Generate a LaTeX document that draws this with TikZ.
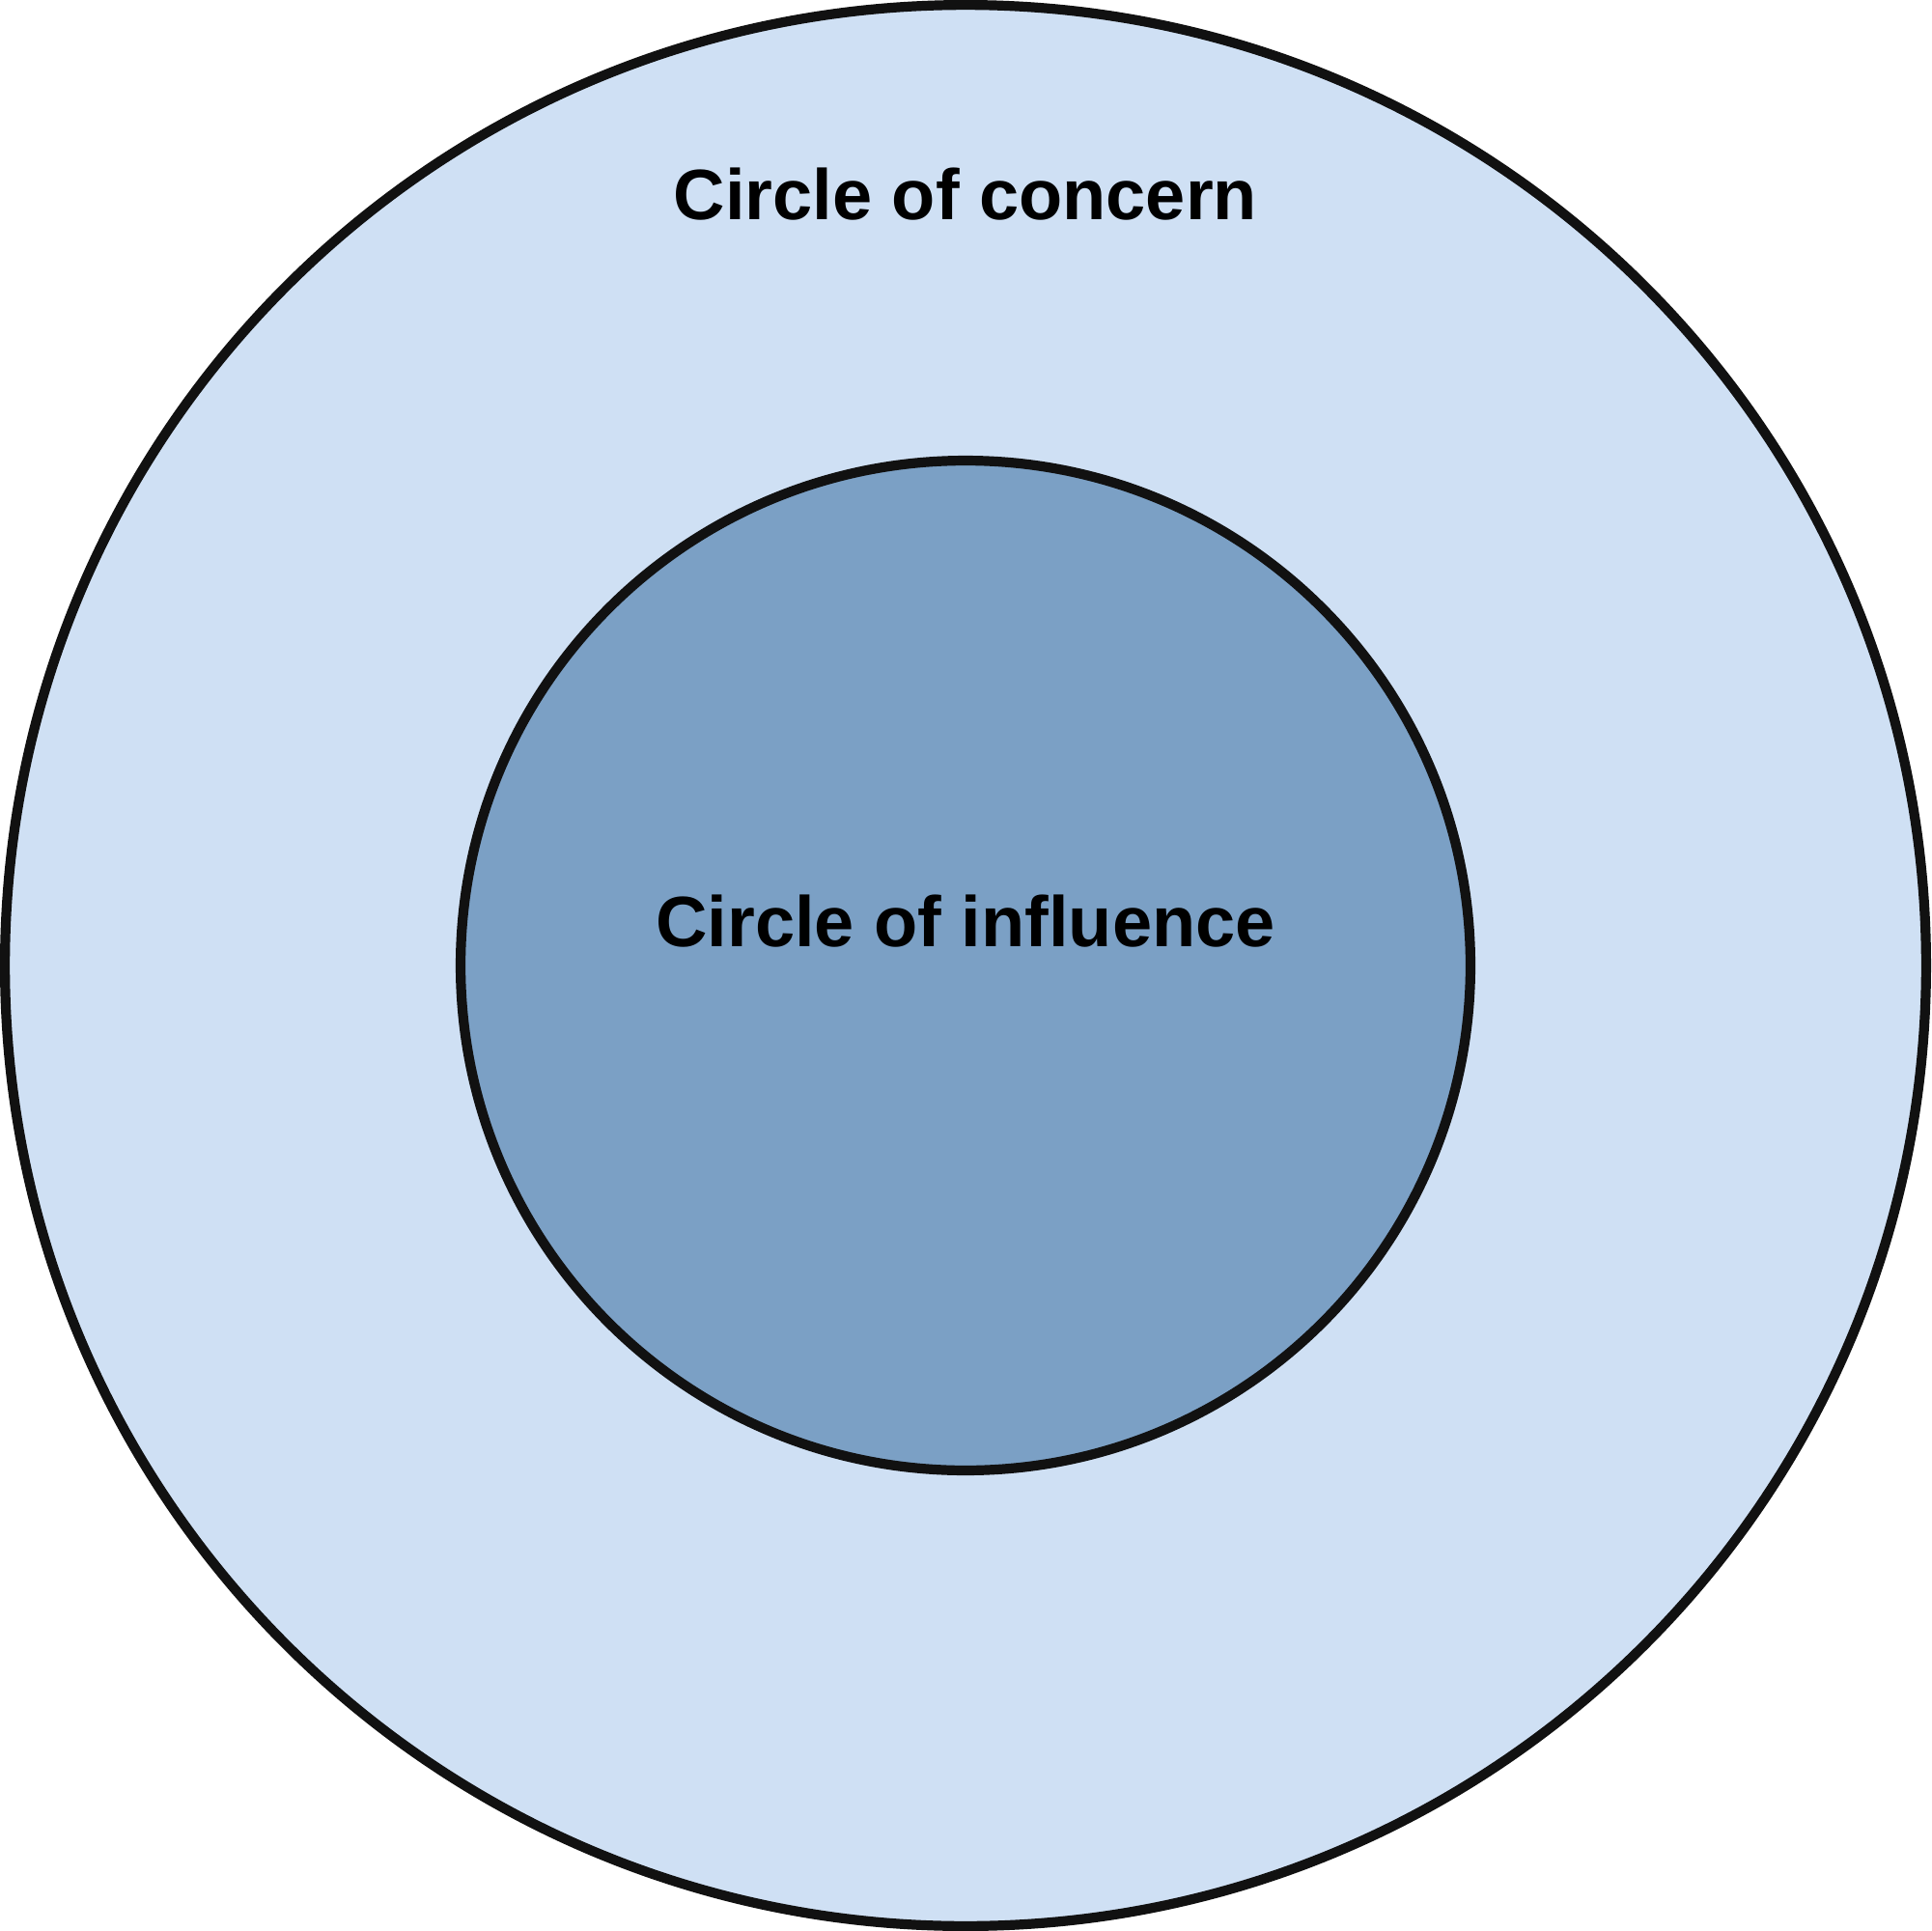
\documentclass[tikz,border=0pt]{standalone}
\usepackage{fontspec}
\setmainfont{Liberation Sans}
\definecolor{outerfill}{HTML}{CFE0F4}
\definecolor{innerfill}{HTML}{7BA0C5}
\definecolor{edge}{HTML}{111111}
\begin{document}
\begin{tikzpicture}[x=1pt,y=-1pt,
  ring/.style={circle, draw=edge, line width=8pt, inner sep=0pt},
  lbl/.style={font=\fontsize{58}{70}\selectfont\bfseries, text=black, anchor=base, inner sep=0pt}]
\useasboundingbox (0,0) rectangle (1568,1568);
\node[ring, fill=outerfill, minimum size=1560pt] (concern) at (784,784) {};
\node[ring, fill=innerfill, minimum size=820pt] (influence) at (784,784) {};
\node[lbl] (tconcern) at (784,178) {Circle of concern};
\node[lbl] (tinfluence) at (784,769) {Circle of influence};
\end{tikzpicture}
\end{document}
